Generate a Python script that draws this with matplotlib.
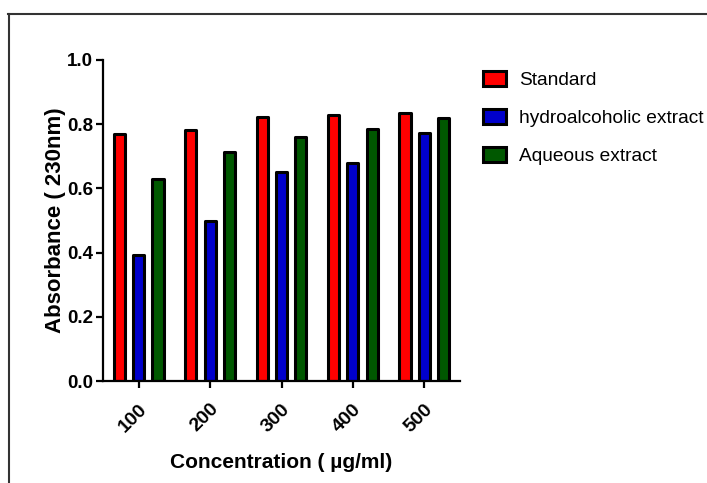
import numpy as np
import matplotlib.pyplot as plt
from matplotlib.lines import Line2D

# values
concentrations = ['100', '200', '300', '400', '500']
standard = [0.769, 0.782, 0.822, 0.829, 0.835]
hydroalcoholic = [0.392, 0.500, 0.651, 0.679, 0.773]
aqueous = [0.629, 0.713, 0.760, 0.785, 0.819]

series_names = ['Standard', 'hydroalcoholic extract', 'Aqueous extract']
colors = ['#ff0000', '#0000cc', '#005800']

plt.rcParams['font.family'] = ['Liberation Sans', 'DejaVu Sans']

fig = plt.figure(figsize=(7.07, 4.83), dpi=100)
ax = fig.add_axes([103 / 707, 1 - 381 / 483, (460 - 103) / 707, (381 - 60) / 483])

x = np.arange(len(concentrations))
pitch = 0.27
for i, (vals, name, col) in enumerate(zip([standard, hydroalcoholic, aqueous], series_names, colors)):
    bars = ax.bar(x + (i - 1) * pitch, vals, width=0.155, color=col, edgecolor='black',
                  linewidth=2.2, label=name)
    for b in bars:
        b.set_joinstyle('round')

ax.set_xlim(-0.5, 4.5)
ax.set_ylim(0, 1.0)
ax.set_yticks([0.0, 0.2, 0.4, 0.6, 0.8, 1.0])
ax.set_yticklabels(['0.0', '0.2', '0.4', '0.6', '0.8', '1.0'], fontweight='bold', fontsize=13.5)
ax.set_xticks(x)
ax.set_xticklabels(concentrations, rotation=45, ha='right', rotation_mode='anchor',
                   fontweight='bold', fontsize=14)

ax.spines['top'].set_visible(False)
ax.spines['right'].set_visible(False)
ax.spines['left'].set_linewidth(1.6)
ax.spines['bottom'].set_linewidth(1.6)
ax.tick_params(axis='both', length=5, width=1.6, pad=2)
ax.tick_params(axis='x', pad=9)

ax.set_xlabel('Concentration ( µg/ml)', fontweight='bold', fontsize=15, labelpad=13)
ax.set_ylabel('Absorbance ( 230nm)', fontweight='bold', fontsize=16, labelpad=1)

leg = fig.legend(loc='upper left', bbox_to_anchor=(483 / 707, 1 - 71 / 483), frameon=False,
                 prop={'size': 13.8}, handlelength=1.2, handleheight=0.85,
                 handletextpad=0.7, labelspacing=1.02, borderpad=0, borderaxespad=0)
for h in leg.legend_handles:
    h.set_linewidth(2.2)
    h.set_edgecolor('black')

# thin frame around the figure (top and left edges visible)
fig.add_artist(Line2D([8 / 707, 1], [1 - 14 / 483, 1 - 14 / 483], color='#333333', linewidth=1.5))
fig.add_artist(Line2D([9 / 707, 9 / 707], [0, 1 - 14 / 483], color='#333333', linewidth=1.5))

fig.savefig('out.png', dpi=100)
